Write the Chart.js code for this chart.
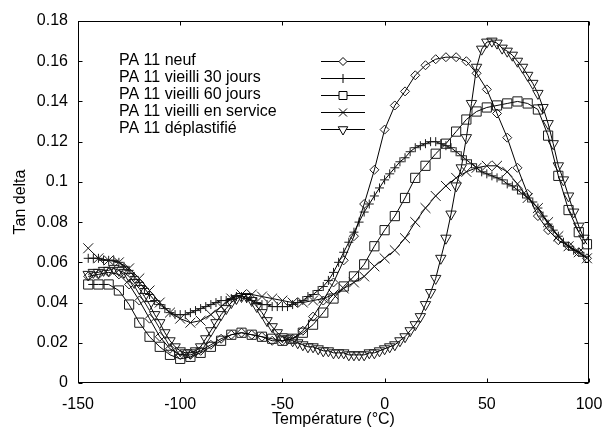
<!DOCTYPE html>
<html>
<head>
<meta charset="utf-8">
<script src="https://cdn.jsdelivr.net/npm/chart.js@4.4.0/dist/chart.umd.min.js"></script>
<style>
html, body { margin: 0; padding: 0; background: #ffffff; }
#wrap { width: 602px; height: 434px; }
canvas { display: block; }
</style>
</head>
<body>
<div id="wrap"><canvas id="c" width="602" height="434"></canvas></div>
<script>
// ---------- data ----------
const seriesNames = [
  "PA 11 neuf",
  "PA 11 vieilli 30 jours",
  "PA 11 vieilli 60 jours",
  "PA 11 vieilli en service",
  "PA 11 déplastifié"
];

// temperatures (°C) for the densely sampled series
const tempFine = [
  -145, -142.5, -140, -137.5, -135, -132.5, -130, -127.5, -125, -122.5,
  -120, -117.5, -115, -112.5, -110, -107.5, -105, -102.5, -100, -97.5,
  -95, -92.5, -90, -87.5, -85, -82.5, -80, -77.5, -75, -72.5,
  -70, -67.5, -65, -62.5, -60, -57.5, -55, -52.5, -50, -47.5,
  -45, -42.5, -40, -37.5, -35, -32.5, -30, -27.5, -25, -22.5,
  -20, -17.5, -15, -12.5, -10, -7.5, -5, -2.5, 0, 2.5,
  5, 7.5, 10, 12.5, 15, 17.5, 20, 22.5, 25, 27.5,
  30, 32.5, 35, 37.5, 40, 42.5, 45, 47.5, 50, 52.5,
  55, 57.5, 60, 62.5, 65, 67.5, 70, 72.5, 75, 77.5,
  80, 82.5, 85, 87.5, 90, 92.5, 95, 97.5
];

// temperatures (°C) for the coarser sampled series
const tempCoarse = [
  -145, -140, -135, -130, -125, -120, -115, -110, -105, -100,
  -95, -90, -85, -80, -75, -70, -65, -60, -55, -50,
  -45, -40, -35, -30, -25, -20, -15, -10, -5, 0,
  5, 10, 15, 20, 25, 30, 35, 40, 45, 50,
  55, 60, 65, 70, 75, 80, 85, 90, 95, 99
];

// Tan delta values
const tanNeuf = [
  0.053, 0.054, 0.055, 0.054, 0.049, 0.041, 0.032, 0.023, 0.017, 0.014,
  0.014, 0.016, 0.019, 0.022, 0.024, 0.025, 0.024, 0.023, 0.021, 0.021,
  0.022, 0.026, 0.033, 0.041, 0.050, 0.061, 0.073, 0.089, 0.106, 0.126,
  0.138, 0.145, 0.153, 0.158, 0.161, 0.162, 0.162, 0.160, 0.154, 0.146,
  0.134, 0.122, 0.107, 0.094, 0.083, 0.076, 0.071, 0.068, 0.065, 0.062
];

const tan30j = [
  0.062, 0.062, 0.062, 0.061, 0.061, 0.061, 0.060, 0.058, 0.056, 0.053,
  0.050, 0.047, 0.044, 0.041, 0.039, 0.037, 0.035, 0.034, 0.034, 0.034,
  0.035, 0.036, 0.037, 0.038, 0.039, 0.040, 0.041, 0.041, 0.042, 0.043,
  0.043, 0.042, 0.041, 0.040, 0.039, 0.039, 0.038, 0.038, 0.038, 0.038,
  0.039, 0.040, 0.041, 0.043, 0.044, 0.046, 0.048, 0.051, 0.055, 0.060,
  0.065, 0.070, 0.075, 0.080, 0.085, 0.089, 0.093, 0.097, 0.101, 0.104,
  0.107, 0.110, 0.112, 0.115, 0.117, 0.118, 0.119, 0.120, 0.120, 0.119,
  0.118, 0.117, 0.115, 0.113, 0.111, 0.109, 0.107, 0.105, 0.104, 0.103,
  0.102, 0.101, 0.099, 0.098, 0.096, 0.094, 0.092, 0.090, 0.087, 0.083,
  0.079, 0.076, 0.073, 0.070, 0.068, 0.066, 0.065, 0.063
];

const tan60j = [
  0.049, 0.049, 0.049, 0.046, 0.039, 0.030, 0.023, 0.018, 0.014, 0.012,
  0.013, 0.015, 0.018, 0.021, 0.024, 0.025, 0.024, 0.023, 0.022, 0.021,
  0.022, 0.025, 0.029, 0.035, 0.042, 0.048, 0.053, 0.059, 0.068, 0.076,
  0.083, 0.092, 0.102, 0.108, 0.114, 0.119, 0.125, 0.131, 0.135, 0.137,
  0.138, 0.139, 0.140, 0.139, 0.136, 0.123, 0.103, 0.086, 0.075, 0.069
];

const tanService = [
  0.067, 0.062, 0.061, 0.060, 0.057, 0.052, 0.046, 0.040, 0.035, 0.032,
  0.030, 0.031, 0.034, 0.038, 0.042, 0.044, 0.044, 0.043, 0.042, 0.041,
  0.040, 0.040, 0.041, 0.042, 0.044, 0.047, 0.050, 0.053, 0.058, 0.062,
  0.066, 0.072, 0.080, 0.087, 0.093, 0.098, 0.102, 0.105, 0.107, 0.108,
  0.108, 0.105, 0.099, 0.092, 0.087, 0.080, 0.073, 0.068, 0.065, 0.062
];

const tanDeplast = [
  0.054, 0.055, 0.055, 0.056, 0.056, 0.057, 0.056, 0.055, 0.053, 0.050,
  0.047, 0.043, 0.039, 0.034, 0.030, 0.025, 0.021, 0.018, 0.016, 0.015,
  0.015, 0.016, 0.018, 0.022, 0.026, 0.030, 0.034, 0.037, 0.040, 0.042,
  0.043, 0.043, 0.041, 0.038, 0.035, 0.031, 0.028, 0.025, 0.023, 0.022,
  0.021, 0.020, 0.019, 0.018, 0.018, 0.017, 0.016, 0.016, 0.015, 0.015,
  0.015, 0.014, 0.014, 0.014, 0.014, 0.015, 0.015, 0.016, 0.017, 0.018,
  0.019, 0.021, 0.023, 0.026, 0.029, 0.033, 0.039, 0.045, 0.052, 0.062,
  0.072, 0.084, 0.098, 0.107, 0.122, 0.139, 0.157, 0.166, 0.1695, 0.170,
  0.169, 0.1665, 0.165, 0.163, 0.160, 0.157, 0.153, 0.149, 0.144, 0.137,
  0.129, 0.119, 0.108, 0.101, 0.093, 0.085, 0.078, 0.072
];

const xTickValues = [-150, -100, -50, 0, 50, 100];
const xTickLabels = ["-150", "-100", "-50", "0", "50", "100"];
const yTickValues = [0, 0.02, 0.04, 0.06, 0.08, 0.1, 0.12, 0.14, 0.16, 0.18];
const yTickLabels = ["0", "0.02", "0.04", "0.06", "0.08", "0.1", "0.12", "0.14", "0.16", "0.18"];

const xTitle = "Température (°C)";
const yTitle = "Tan delta";

// ---------- chart ----------
const FONT = "'Liberation Sans', Arial, Helvetica, sans-serif";

function toPoints(xs, ys) {
  return xs.map((x, i) => ({ x: x, y: ys[i] }));
}

const styles = [
  { pointStyle: 'rectRot', radius: 4.5, rotation: 0 },
  { pointStyle: 'cross', radius: 4.5, rotation: 0 },
  { pointStyle: 'rect', radius: 6.5, rotation: 0 },
  { pointStyle: 'crossRot', radius: 7, rotation: 0 },
  { pointStyle: 'triangle', radius: 6, rotation: 180 }
];

const seriesTemps = [tempCoarse, tempFine, tempCoarse, tempCoarse, tempFine];
const seriesValues = [tanNeuf, tan30j, tan60j, tanService, tanDeplast];

const datasets = seriesNames.map((name, i) => ({
  label: name,
  data: toPoints(seriesTemps[i], seriesValues[i]),
  borderColor: '#000000',
  borderWidth: 1,
  backgroundColor: 'rgba(0,0,0,0)',
  pointStyle: styles[i].pointStyle,
  pointRadius: styles[i].radius,
  pointRotation: styles[i].rotation,
  pointBorderColor: '#1a1a1a',
  pointBorderWidth: 1,
  pointBackgroundColor: 'rgba(0,0,0,0)',
  tension: 0,
  fill: false,
  clip: false
}));

function drawMarker(ctx, style, x, y) {
  ctx.beginPath();
  if (style === 'rectRot') {
    const r = 4;
    ctx.moveTo(x, y - r); ctx.lineTo(x + r, y); ctx.lineTo(x, y + r); ctx.lineTo(x - r, y); ctx.closePath();
    ctx.fill(); ctx.stroke();
  } else if (style === 'cross') {
    const r = 4.5;
    ctx.moveTo(x - r, y); ctx.lineTo(x + r, y); ctx.moveTo(x, y - r); ctx.lineTo(x, y + r);
    ctx.stroke();
  } else if (style === 'rect') {
    const h = 4;
    ctx.rect(x - h, y - h, 2 * h, 2 * h);
    ctx.fill(); ctx.stroke();
  } else if (style === 'crossRot') {
    const h = 4;
    ctx.moveTo(x - h, y - h); ctx.lineTo(x + h, y + h); ctx.moveTo(x + h, y - h); ctx.lineTo(x - h, y + h);
    ctx.stroke();
  } else if (style === 'triangle') {
    const r = 5.5;
    ctx.moveTo(x, y + r); ctx.lineTo(x + r * 0.866, y - r * 0.5); ctx.lineTo(x - r * 0.866, y - r * 0.5); ctx.closePath();
    ctx.fill(); ctx.stroke();
  }
}

const framePlugin = {
  id: 'frameAndLegend',
  afterDatasetsDraw(chart) {
    const ctx = chart.ctx;
    const a = chart.chartArea;
    const xs = chart.scales.x, ys = chart.scales.y;
    ctx.save();
    ctx.strokeStyle = '#000000';
    ctx.lineWidth = 1;
    const L = Math.round(a.left) + 0.5, R = Math.round(a.right) - 0.5;
    const T = Math.round(a.top) + 0.5, B = Math.round(a.bottom) - 0.5;
    ctx.strokeRect(L, T, R - L, B - T);
    const tl = 4;
    ctx.beginPath();
    xTickValues.forEach(v => {
      const px = Math.round(xs.getPixelForValue(v)) + 0.5;
      ctx.moveTo(px, B); ctx.lineTo(px, B - tl);
      ctx.moveTo(px, T); ctx.lineTo(px, T + tl);
    });
    yTickValues.forEach(v => {
      const py = Math.round(ys.getPixelForValue(v)) + 0.5;
      ctx.moveTo(L, py); ctx.lineTo(L + tl, py);
      ctx.moveTo(R, py); ctx.lineTo(R - tl, py);
    });
    ctx.stroke();

    // legend
    ctx.font = "16px " + FONT;
    ctx.fillStyle = '#000000';
    ctx.textBaseline = 'middle';
    ctx.textAlign = 'left';
    chart.data.datasets.forEach((ds, i) => {
      const y = 61 + i * 17;
      ctx.fillStyle = '#000000';
      ctx.fillText(ds.label, 119, y);
      ctx.beginPath();
      ctx.moveTo(321, y + 0.5); ctx.lineTo(365, y + 0.5);
      ctx.stroke();
      ctx.fillStyle = '#ffffff';
      drawMarker(ctx, styles[i].pointStyle, 343, y + 0.5);
    });
    ctx.restore();
  }
};

new Chart(document.getElementById('c'), {
  type: 'line',
  data: { datasets: datasets },
  options: {
    responsive: false,
    devicePixelRatio: 1,
    animation: false,
    events: [],
    layout: { padding: { left: 0, right: 13, top: 21, bottom: 0 } },
    plugins: {
      legend: { display: false },
      tooltip: { enabled: false },
      title: { display: false }
    },
    scales: {
      x: {
        type: 'linear',
        min: -150,
        max: 100,
        border: { display: false },
        grid: { display: false, drawTicks: false },
        ticks: {
          stepSize: 50,
          padding: 12,
          color: '#000000',
          font: { family: FONT, size: 16 },
          maxRotation: 0,
          autoSkip: false,
          callback: (v) => { const k = xTickValues.indexOf(v); return k >= 0 ? xTickLabels[k] : ''; }
        },
        title: {
          display: true,
          text: xTitle,
          color: '#000000',
          font: { family: FONT, size: 16 },
          padding: { top: 0, bottom: 5 }
        },
        afterFit: (s) => { s.height = 51; s.paddingLeft = 0; s.paddingRight = 0; }
      },
      y: {
        type: 'linear',
        min: 0,
        max: 0.18,
        border: { display: false },
        grid: { display: false, drawTicks: false },
        ticks: {
          stepSize: 0.02,
          padding: 10,
          color: '#000000',
          font: { family: FONT, size: 16 },
          autoSkip: false,
          callback: (v) => {
            const k = yTickValues.findIndex(t => Math.abs(t - v) < 1e-9);
            return k >= 0 ? yTickLabels[k] : '';
          }
        },
        title: {
          display: true,
          text: yTitle,
          color: '#000000',
          font: { family: FONT, size: 16 },
          padding: { top: 11, bottom: 0 }
        },
        afterFit: (s) => { s.width = 78; s.paddingTop = 0; s.paddingBottom = 0; }
      }
    }
  },
  plugins: [framePlugin]
});
</script>
</body>
</html>
